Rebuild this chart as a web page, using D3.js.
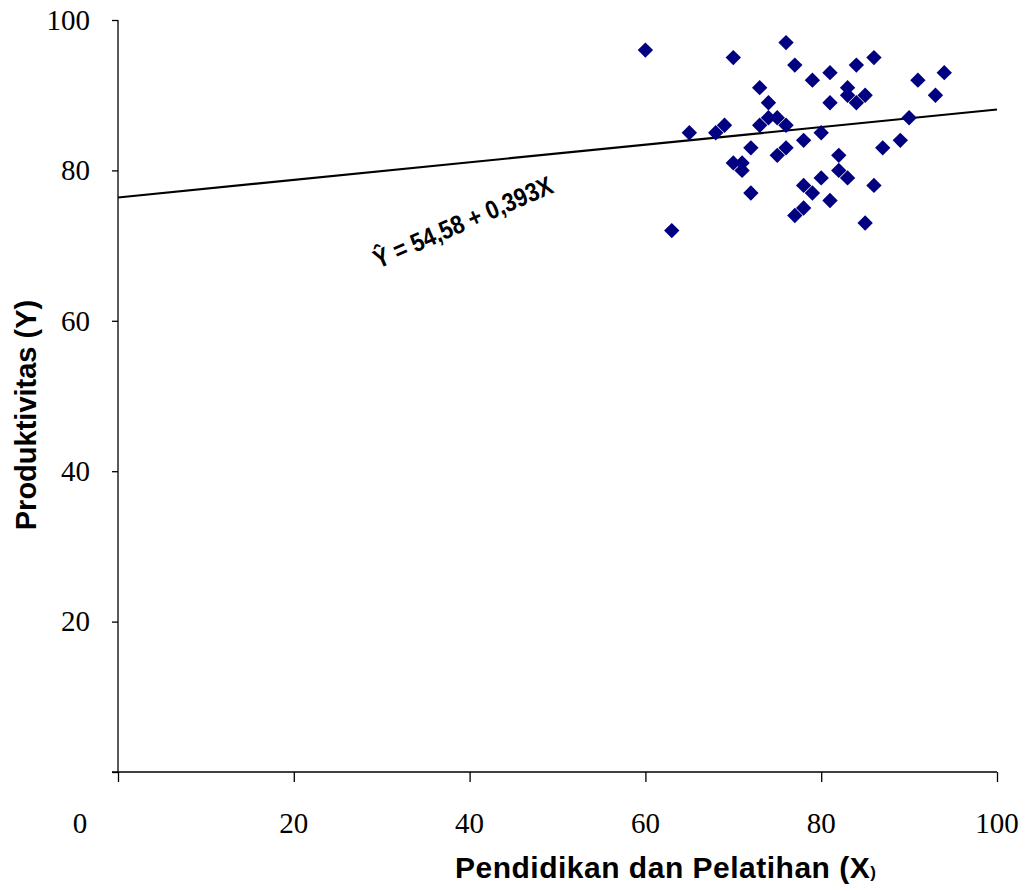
<!DOCTYPE html>
<meta charset="utf-8">
<style>
body, html {
  margin: 0;
  padding: 0;
  background: #fff;
}
.tick-label {
  font: 29px "Liberation Serif", "Times New Roman", serif;
  fill: #000;
}
.axis-title {
  font: bold 29px "Liberation Sans", Arial, sans-serif;
  fill: #000;
}
.equation {
  font: bold 26px "Liberation Sans Narrow", "Liberation Sans", Arial, sans-serif;
  fill: #000;
}
</style>
<div id="chart"></div>
<script src="https://d3js.org/d3.v7.min.js"></script>
<script>
// pendidikan dan pelatihan (X)
const xValues = [60, 63, 65, 68, 69, 70, 70, 71, 71, 72, 72, 73, 73, 74, 74, 75, 75,
  76, 76, 76, 77, 77, 78, 78, 78, 79, 79, 80, 80, 81, 81, 81, 82, 82, 83, 83, 83,
  84, 84, 85, 85, 86, 86, 87, 89, 90, 91, 93, 94]
// produktivitas (Y)
const yValues = [96, 72, 85, 85, 86, 95, 81, 81, 80, 83, 77, 91, 86, 89, 87, 87, 82,
  97, 86, 83, 94, 74, 84, 78, 75, 92, 77, 85, 79, 93, 89, 76, 82, 80, 91, 90, 79,
  94, 89, 90, 73, 95, 78, 83, 84, 87, 92, 90, 93]
const trendX = [0, 100]
const trendY = [76.4, 88.1]
const xTicks = [0, 20, 40, 60, 80, 100]
const yTicks = [0, 20, 40, 60, 80, 100]
const equationText = "Ŷ = 54,58 + 0,393X"

const width = 1028
const height = 892
const margin = {left: 118, top: 20, right: 31, bottom: 120}

let svg = d3.select("#chart")
            .append("svg")
            .attr("width", width)
            .attr("height", height)

let x = d3.scaleLinear().domain([0, 100]).range([margin.left, width - margin.right])
let y = d3.scaleLinear().domain([0, 100]).range([height - margin.bottom, margin.top])

// y axis
let yAxis = svg.append("g")
  .attr("transform", "translate(" + margin.left + ",0)")
  .call(d3.axisLeft(y).tickValues(yTicks).tickSize(6).tickFormat(""))
yAxis.select(".domain").attr("d", "M0," + y(100) + "V" + y(0))
yAxis.selectAll("line, path").attr("stroke", "#000").attr("stroke-width", 1.3)

svg.selectAll(".ylab")
  .data(yTicks.filter(d => d > 0))
  .enter().append("text")
    .attr("class", "tick-label")
    .attr("x", 90)
    .attr("y", d => y(d))
    .attr("dy", "0.34em")
    .attr("text-anchor", "end")
    .text(d => d)

// x axis
let xAxis = svg.append("g")
  .attr("transform", "translate(0," + y(0) + ")")
  .call(d3.axisBottom(x).tickValues(xTicks).tickSize(10).tickFormat(""))
xAxis.select(".domain").attr("d", "M" + (x(0) - 6) + ",0H" + x(100))
xAxis.selectAll("line, path").attr("stroke", "#000").attr("stroke-width", 1.3)

svg.selectAll(".xlab")
  .data(xTicks)
  .enter().append("text")
    .attr("class", "tick-label")
    .attr("x", d => d === 0 ? 80 : x(d))
    .attr("y", 823)
    .attr("dy", "0.34em")
    .attr("text-anchor", "middle")
    .text(d => d)

// trend line
svg.append("line")
  .attr("x1", x(trendX[0])).attr("y1", y(trendY[0]))
  .attr("x2", x(trendX[1])).attr("y2", y(trendY[1]))
  .attr("stroke", "#000")
  .attr("stroke-width", 2.2)

// points
let diamond = d3.symbol().type(d3.symbolSquare).size(118)
svg.selectAll(".pt")
  .data(xValues.map((d, i) => [d, yValues[i]]))
  .enter().append("path")
    .attr("class", "pt")
    .attr("d", diamond)
    .attr("transform", d => "translate(" + x(d[0]) + "," + y(d[1]) + ") rotate(45)")
    .attr("fill", "#000080")

// equation, condensed like the original
svg.append("text")
  .attr("class", "equation")
  .attr("transform", "translate(463,222) rotate(-23.5) scale(0.86,1)")
  .attr("text-anchor", "middle")
  .attr("dy", "0.35em")
  .text(equationText)

// axis titles
svg.append("text")
  .attr("class", "axis-title")
  .attr("transform", "translate(36,415) rotate(-90)")
  .attr("text-anchor", "middle")
  .text("Produktivitas (Y)")

let xt = svg.append("text")
  .attr("class", "axis-title")
  .attr("x", 455)
  .attr("y", 878)
  .style("font-size", "30px")
  .style("letter-spacing", "0.5px")
xt.append("tspan").text("Pendidikan dan Pelatihan (X")
xt.append("tspan").style("font-size", "17px").text(")")
</script>
